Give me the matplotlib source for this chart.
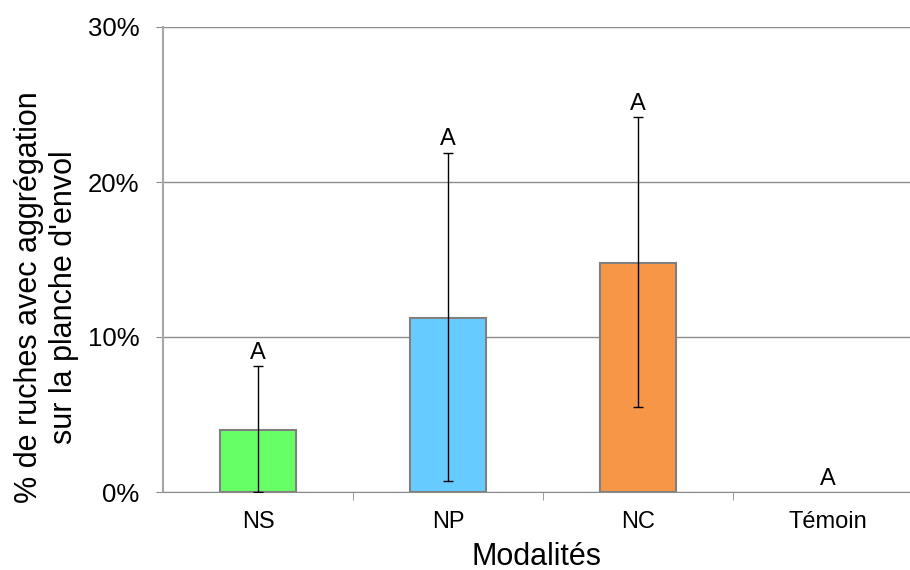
import matplotlib
matplotlib.use('Agg')
import matplotlib.pyplot as plt
from matplotlib.ticker import FuncFormatter, FixedLocator

plt.rcParams['font.family'] = ['Liberation Sans', 'DejaVu Sans']

categories = ['NS', 'NP', 'NC', 'Témoin']
values = [4.0, 11.2, 14.8, 0.0]          # % of hives
err_low = [0.0, 0.7, 5.5, 0.0]
err_high = [8.1, 21.9, 24.2, 0.0]
letters = ['A', 'A', 'A', 'A']
bar_colors = ['#66FF66', '#66CCFF', '#F79646', '#FFFFFF']

fig = plt.figure(figsize=(9.1, 5.7), dpi=100)
ax = fig.add_axes([163/910, 78/570, 1 - 163/910, (492-27)/570])

x = list(range(len(categories)))
ax.bar(x[:3], values[:3], width=0.4, color=bar_colors[:3],
       edgecolor='#7f7f7f', linewidth=1.5, zorder=3)

for i in range(3):
    lo = values[i] - err_low[i]
    hi = err_high[i] - values[i]
    ax.errorbar(x[i], values[i], yerr=[[lo], [hi]], fmt='none',
                ecolor='black', elinewidth=1, capsize=3.5, capthick=1, zorder=4)

for i, letter in enumerate(letters):
    top = max(err_high[i], values[i])
    ax.annotate(letter, (x[i], top), xytext=(0, 1.5), textcoords='offset points',
                ha='center', va='bottom', fontsize=17, zorder=5)

ax.set_xlim(-0.5, (910 - 163) / 190 - 0.5)
ax.set_ylim(0, 30)
ax.set_yticks([0, 10, 20, 30])
ax.yaxis.set_major_formatter(FuncFormatter(lambda v, p: f'{v:.0f}%'))
ax.grid(axis='y', color='#8c8c8c', linewidth=1, zorder=0)

ax.set_xticks(x)
ax.set_xticklabels(categories)
ax.xaxis.set_minor_locator(FixedLocator([0.5, 1.5, 2.5, 3.5]))
ax.tick_params(axis='x', which='major', length=0, pad=14, labelsize=17)
ax.tick_params(axis='x', which='minor', length=6, color='#8c8c8c', direction='out')
ax.tick_params(axis='y', length=5, color='#8c8c8c', labelsize=18.5, pad=12)

for s in ['top', 'right']:
    ax.spines[s].set_visible(False)
ax.spines['left'].set_color('#a6a6a6')
ax.spines['left'].set_linewidth(1.5)
ax.spines['bottom'].set_color('#8c8c8c')

ax.set_xlabel('Modalités', fontsize=22, labelpad=6)
ax.set_ylabel("% de ruches avec aggrégation\nsur la planche d'envol", fontsize=22)
ax.yaxis.set_label_coords(-0.113, 0.42)

plt.savefig('out.png', dpi=100)
